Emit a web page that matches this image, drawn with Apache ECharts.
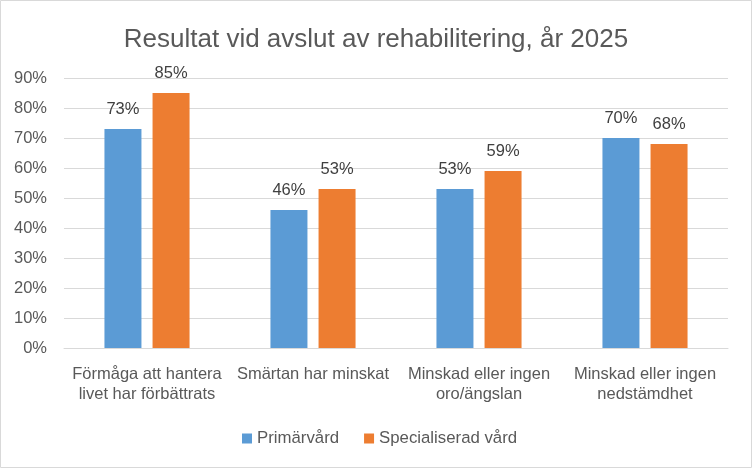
<!DOCTYPE html>
<html>
<head>
<meta charset="utf-8">
<script src="https://cdn.jsdelivr.net/npm/echarts@6/dist/echarts.min.js"></script>
<style>html,body{margin:0;padding:0;background:#fff;}#c{width:752px;height:468px;}</style>
</head>
<body>
<div id="c"></div>
<script>
var categories = ['Förmåga att hantera\nlivet har förbättrats', 'Smärtan har minskat', 'Minskad eller ingen\noro/ängslan', 'Minskad eller ingen\nnedstämdhet'];
var primarvard = [73, 46, 53, 70];
var specialiserad = [85, 53, 59, 68];
var seriesNames = ['Primärvård', 'Specialiserad vård'];
var titleText = 'Resultat vid avslut av rehabilitering, år 2025';

var FONT = 'Liberation Sans';
var chart = echarts.init(document.getElementById('c'));
chart.setOption({
  animation: false,
  textStyle: {fontFamily: FONT},
  graphic: [{type: 'rect', shape: {x: 0.5, y: 0.5, width: 751, height: 467}, style: {fill: 'none', stroke: '#d9d9d9', lineWidth: 1}, silent: true}],
  title: {text: titleText, left: 'center', top: 22, textStyle: {fontFamily: FONT, fontSize: 26, fontWeight: 'normal', color: '#595959'}},
  legend: {bottom: 16, left: 237, itemWidth: 10, itemHeight: 10, itemGap: 25, icon: 'rect',
    textStyle: {fontFamily: FONT, fontSize: 16.8, color: '#595959'}},
  grid: {left: 64, right: 24, top: 78, bottom: 120, containLabel: false},
  xAxis: {type: 'category', data: categories,
    axisLine: {lineStyle: {color: '#d9d9d9'}}, axisTick: {show: false},
    axisLabel: {fontFamily: FONT, fontSize: 16.5, color: '#595959', lineHeight: 20, margin: 16, interval: 0}},
  yAxis: {type: 'value', min: 0, max: 90, interval: 10,
    axisLabel: {formatter: '{value}%', fontFamily: FONT, fontSize: 16.5, color: '#595959', margin: 17},
    splitLine: {lineStyle: {color: '#d9d9d9'}}, axisLine: {show: false}, axisTick: {show: false}},
  series: [
    {name: seriesNames[0], type: 'bar', data: primarvard, barWidth: 37, barGap: '30%', itemStyle: {color: '#5B9BD5'},
      label: {show: true, position: 'top', distance: 11, formatter: '{c}%', fontFamily: FONT, fontSize: 16.5, color: '#404040'}},
    {name: seriesNames[1], type: 'bar', data: specialiserad, barWidth: 37, itemStyle: {color: '#ED7D31'},
      label: {show: true, position: 'top', distance: 11, formatter: '{c}%', fontFamily: FONT, fontSize: 16.5, color: '#404040'}}
  ]
});
</script>
</body>
</html>
